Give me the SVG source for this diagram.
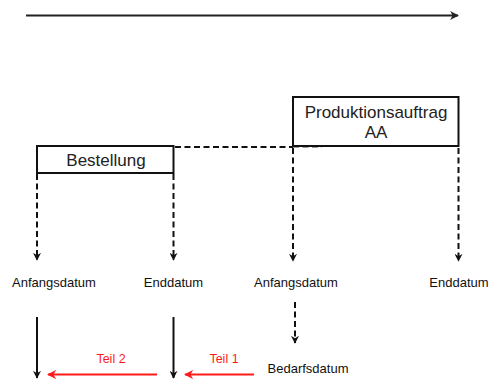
<svg xmlns="http://www.w3.org/2000/svg" width="490" height="379" viewBox="0 0 490 379">
  <defs>
    <marker id="head" viewBox="0 0 10 10" refX="9" refY="5" markerWidth="4" markerHeight="4" orient="auto" markerUnits="strokeWidth">
      <path d="M0,0 L10,5 L0,10 L3,5 Z" fill="#111"/>
    </marker>
    <marker id="headRed" viewBox="0 0 10 10" refX="9" refY="5" markerWidth="4.5" markerHeight="4.5" orient="auto" markerUnits="strokeWidth">
      <path d="M0,0 L10,5 L0,10 L3,5 Z" fill="#ff1a1a"/>
    </marker>
    <marker id="headTime" viewBox="0 0 10 10" refX="9" refY="5" markerWidth="4" markerHeight="4" orient="auto" markerUnits="strokeWidth">
      <path d="M0,0 L10,5 L0,10 L3,5 Z" fill="#222"/>
    </marker>
  </defs>
  <style>
    .box { fill: #fff; stroke: #111; stroke-width: 2; }
    .title { font-family: "Liberation Sans", Arial, sans-serif; font-size: 17px; fill: #222; text-anchor: middle; }
    .label { font-family: "Liberation Sans", Arial, sans-serif; font-size: 13px; fill: #111; text-anchor: middle; }
    .part { font-family: "Liberation Sans", Arial, sans-serif; font-size: 12.5px; fill: #ff1a1a; text-anchor: middle; }
    .dash { fill: none; stroke: #111; stroke-width: 2; stroke-dasharray: 6 3.5; }
    .solid { fill: none; stroke: #111; stroke-width: 2; }
    .red { fill: none; stroke: #ff1a1a; stroke-width: 2; }
  </style>

  <rect width="490" height="379" fill="#fff"/>

  <!-- time axis -->
  <line x1="26" y1="15.5" x2="458" y2="15.5" stroke="#222" stroke-width="2.2" marker-end="url(#headTime)"/>

  <g id="connectors">
    <!-- link between the two orders -->
    <line x1="293" y1="147" x2="322" y2="147" class="dash" stroke="#999" style="stroke:#9a9a9a"/>
    <line x1="175" y1="147" x2="293" y2="147" class="dash"/>
    <!-- order dates -->
    <line x1="37" y1="174" x2="37" y2="260" class="dash" marker-end="url(#head)"/>
    <line x1="173.5" y1="174" x2="173.5" y2="260" class="dash" marker-end="url(#head)"/>
    <!-- production order dates -->
    <line x1="293" y1="148" x2="293" y2="261" class="dash" marker-end="url(#head)"/>
    <line x1="458.5" y1="148" x2="458.5" y2="261" class="dash" marker-end="url(#head)"/>
    <!-- start date to requirement date -->
    <line x1="295" y1="302" x2="295" y2="343" class="dash" marker-end="url(#head)"/>
    <!-- lead times -->
    <line x1="37" y1="317" x2="37" y2="378" class="solid" marker-end="url(#head)"/>
    <line x1="173.5" y1="317" x2="173.5" y2="378" class="solid" marker-end="url(#head)"/>
    <line x1="157" y1="374.5" x2="48" y2="374.5" class="red" marker-end="url(#headRed)"/>
    <line x1="254" y1="374.5" x2="185" y2="374.5" class="red" marker-end="url(#headRed)"/>
  </g>

  <g id="bestellung">
    <rect x="37" y="146" width="136.5" height="27" class="box"/>
    <text x="106" y="166" class="title">Bestellung</text>
  </g>

  <g id="produktionsauftrag">
    <rect x="293" y="97" width="165.5" height="49" class="box"/>
    <text x="376" y="118" class="title">Produktionsauftrag</text>
    <text x="376" y="138" class="title">AA</text>
  </g>

  <g id="bestellung-anfang"><text x="54" y="287" class="label">Anfangsdatum</text></g>
  <g id="bestellung-ende"><text x="173.5" y="287" class="label">Enddatum</text></g>
  <g id="auftrag-anfang"><text x="296" y="287" class="label">Anfangsdatum</text></g>
  <g id="auftrag-ende"><text x="459" y="287" class="label">Enddatum</text></g>
  <g id="bedarfsdatum"><text x="308" y="373" class="label">Bedarfsdatum</text></g>
  <g id="teil2"><text x="111" y="362.5" class="part">Teil 2</text></g>
  <g id="teil1"><text x="224" y="362.5" class="part">Teil 1</text></g>
</svg>
